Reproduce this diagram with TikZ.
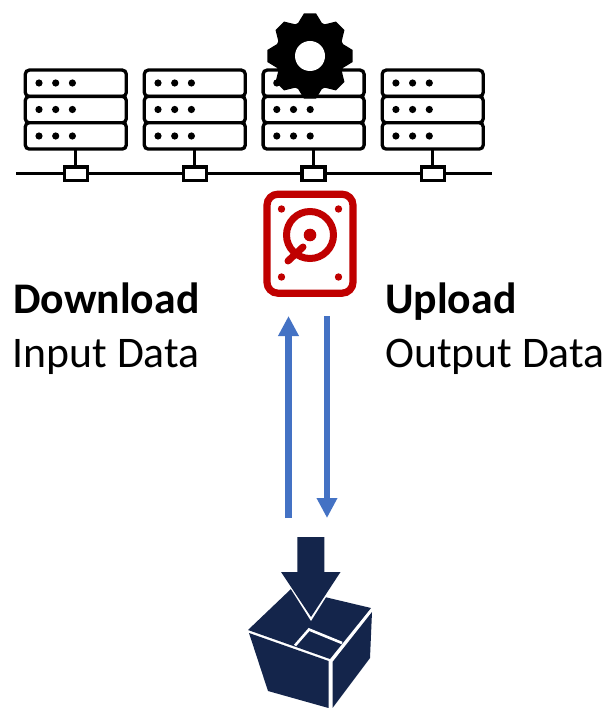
\documentclass[tikz,border=0pt]{standalone}
\usepackage{fontspec}
\setmainfont{Carlito}
\usetikzlibrary{arrows.meta}
\definecolor{diskred}{HTML}{C00000}
\definecolor{flowblue}{HTML}{4472C4}
\definecolor{boxnavy}{HTML}{14254B}
\tikzset{
  rowbox/.style={draw=black,fill=white,line width=3.3pt,rounded corners=4pt,minimum width=101pt,minimum height=26.4pt,inner sep=0pt,outer sep=0pt},
  tapbox/.style={draw=black,fill=white,line width=3.3pt,minimum width=23pt,minimum height=13.5pt,inner sep=0pt,outer sep=0pt},
  wire/.style={draw=black,line width=2.8pt},
  flow/.style={draw=flowblue,line width=6.5pt,-{Triangle[width=19.5pt,length=20pt]}},
  label/.style={font=\fontsize{43.7}{48}\selectfont,anchor=base west,inner sep=0pt,text=black},
  boldlabel/.style={label,font=\fontsize{43.7}{48}\selectfont\bfseries},
  cutline/.style={draw=white,line width=2.6pt},
}
\begin{document}
\begin{tikzpicture}[x=1pt,y=-1pt]
\useasboundingbox (0,0) rectangle (609,708);
\fill[white] (0,0) rectangle (609,708);
% bus
\coordinate (busL) at (16,173.7);
\coordinate (busR) at (492,173.7);
\draw[wire] (busL) -- (busR);
% servers
\foreach \n/\cx in {1/75.8,2/194.8,3/313.6,4/432.7}{
  \node[rowbox] (s\n a) at (\cx,83.3) {};
  \node[rowbox] (s\n b) at (\cx,109.6) {};
  \node[rowbox] (s\n c) at (\cx,135.9) {};
  \node[tapbox] (t\n) at (\cx,173.7) {};
  \draw[wire,line width=3.3pt] (s\n c.south) -- (t\n.north);
  \foreach \yy in {83,109.5,136}{
    \foreach \dx in {-36.8,-20.1,-3.4}{
      \fill[black] (\cx+\dx,\yy) circle (3.6);
    }
  }
}
% gear
\begin{scope}[shift={(310,56)}]
  \fill[black] (0,0) circle (35);
  \foreach \a in {0,45,...,315}{
    \fill[black,rotate=\a] (-12.5,-32) -- (-6,-42.7) -- (6,-42.7) -- (12.5,-32) -- cycle;
  }
  \fill[white] (0,0) circle (15);
\end{scope}
% disk
\draw[diskred,line width=7.2pt,rounded corners=11pt] (267,194.2) rectangle (353,293.2);
\foreach \p in {(281.5,209),(338.5,209),(281.5,277),(338.5,277)}{
  \fill[diskred] \p circle (3.7);
}
\draw[diskred,line width=7pt] (310,235) circle (23.5);
\fill[diskred] (310,235) circle (6.3);
\draw[diskred,line width=7pt,line cap=round] (303,247) -- (288,261);
% transfer arrows
\coordinate (diskUp) at (288.5,316);
\coordinate (boxUp) at (288.5,518);
\coordinate (diskDown) at (327,316);
\coordinate (boxDown) at (327,518);
\draw[flow] (boxUp) -- (diskUp);
\draw[flow] (diskDown) -- (boxDown);
% labels
\node[boldlabel] (dl) at (13,313.5) {Download};
\node[label] (in) at (12.5,367.5) {Input Data};
\node[boldlabel] (ul) at (385,313.5) {Upload};
\node[label] (out) at (385,367.5) {Output Data};
% package
\fill[boxnavy] (248,630) -- (291,589) -- (371,608) -- (330,659) -- cycle;
\fill[boxnavy] (249,633) -- (268,691) -- (328.5,708) -- (328.5,661) -- cycle;
\fill[boxnavy] (332.5,662) -- (332.5,708) -- (370,658) -- (372,612) -- cycle;
\draw[cutline] (295,645.5) -- (309,629.5) -- (342,643);
% package arrow
\fill[white] (279,570) -- (343,570) -- (311,621) -- cycle;
\fill[boxnavy] (297.3,537) -- (324.3,537) -- (324.3,572) -- (340.5,572) -- (311,617) -- (281,572) -- (297.3,572) -- cycle;
\end{tikzpicture}
\end{document}
